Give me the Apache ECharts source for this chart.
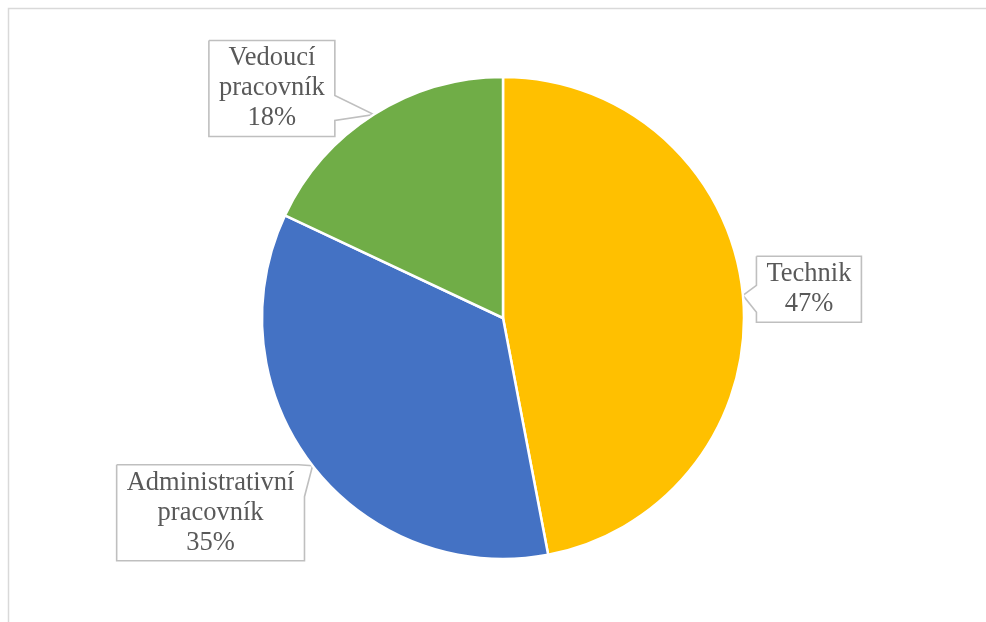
<!DOCTYPE html>
<html>
<head>
<meta charset="utf-8">
<script src="https://cdn.jsdelivr.net/npm/echarts@6/dist/echarts.min.js"></script>
<style>
  html, body { margin: 0; padding: 0; background: #ffffff; }
  #chart { width: 986px; height: 622px; }
</style>
</head>
<body>
<div id="chart"></div>
<script>
// Staff structure by job type
const categories = ['Technik', 'Administrativní pracovník', 'Vedoucí pracovník'];
const shares = [47, 35, 18];
const sliceColors = ['#FFC000', '#4472C4', '#70AD47'];

// Callout placement: box centre relative to the slice's edge anchor,
// and the edge of the box the pointer leaves from.
const calloutPlacement = [
  { dx: 66, dy: -6, pointer: 'left', from: -4, to: 23 },
  { dx: -102, dy: 47, pointer: 'topRight', from: 6, to: 32 },
  { dx: -102, dy: -26, pointer: 'right', from: 7, to: 32 }
];

const pieCenter = [503, 318];
const pieRadius = 241;

function edgeAnchor(index) {
  // mid-angle point on the pie edge (clockwise from 12 o'clock)
  const total = shares.reduce((a, b) => a + b, 0);
  let before = 0;
  for (let k = 0; k < index; k++) before += shares[k];
  const mid = (before + shares[index] / 2) / total * Math.PI * 2;
  return [pieCenter[0] + pieRadius * Math.sin(mid), pieCenter[1] - pieRadius * Math.cos(mid)];
}

function calloutOutline(p, tip, x0, y0, x1, y1, cy) {
  if (p.pointer === 'left') {
    return [[x0, y0], [x1, y0], [x1, y1], [x0, y1], [x0, cy + p.to], tip, [x0, cy + p.from], [x0, y0]];
  }
  if (p.pointer === 'right') {
    return [[x0, y0], [x1, y0], [x1, cy + p.from], tip, [x1, cy + p.to], [x1, y1], [x0, y1], [x0, y0]];
  }
  // top-right corner
  return [[x0, y0], [x1 - p.from, y0], tip, [x1, y0 + p.to], [x1, y1], [x0, y1], [x0, y0]];
}

const chart = echarts.init(document.getElementById('chart'), null, { renderer: 'canvas' });

chart.setOption({
  animation: false,
  backgroundColor: '#ffffff',
  graphic: [{
    type: 'rect',
    silent: true,
    shape: { x: 8.5, y: 8.5, width: 1200, height: 1000 },
    style: { fill: 'none', stroke: '#D9D9D9', lineWidth: 1.5 }
  }],
  series: [{
    type: 'pie',
    center: pieCenter,
    radius: pieRadius,
    startAngle: 90,
    clockwise: true,
    avoidLabelOverlap: false,
    percentPrecision: 0,
    emphasis: { disabled: true },
    itemStyle: { borderColor: '#ffffff', borderWidth: 2.5 },
    data: categories.map((name, i) => ({
      name: name,
      value: shares[i],
      itemStyle: { color: sliceColors[i] }
    })),
    label: {
      show: true,
      position: 'outside',
      formatter: p => p.name.replace(' ', '\n') + '\n' + p.percent + '%',
      fontFamily: 'Liberation Serif',
      fontSize: 26.5,
      lineHeight: 30,
      color: '#595959',
      padding: [3, 10],
      align: 'center'
    },
    labelLine: {
      show: true,
      length: 10,
      length2: 10,
      smooth: false,
      lineStyle: { color: '#BFBFBF', width: 1.6 }
    },
    labelLayout: function (params) {
      const i = params.dataIndex;
      const p = calloutPlacement[i];
      const tip = edgeAnchor(i);
      const w = params.labelRect.width;
      const h = params.labelRect.height;
      const cx = tip[0] + p.dx;
      const cy = tip[1] + p.dy;
      const x0 = cx - w / 2, x1 = cx + w / 2, y0 = cy - h / 2, y1 = cy + h / 2;
      return {
        x: cx,
        y: cy,
        align: 'center',
        verticalAlign: 'middle',
        labelLinePoints: calloutOutline(p, tip, x0, y0, x1, y1, cy)
      };
    }
  }]
});
</script>
</body>
</html>
